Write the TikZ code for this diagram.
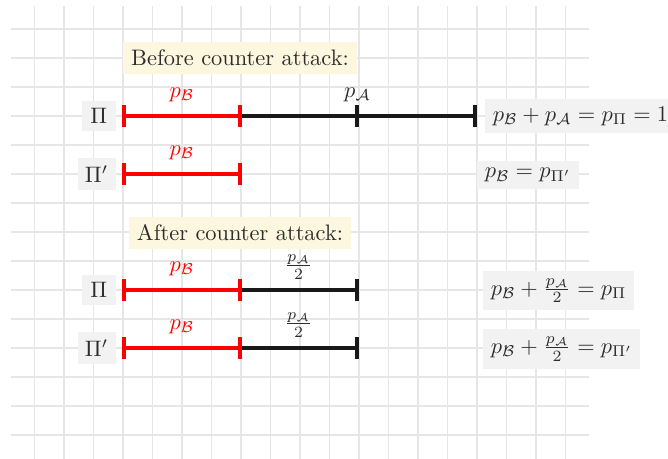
\documentclass[tikz,border=0pt]{standalone}
\usepackage{amsmath}
\definecolor{titlefill}{RGB}{252,247,222}
\definecolor{boxfill}{RGB}{242,242,242}
\definecolor{txt}{RGB}{45,45,45}
\definecolor{gridc}{RGB}{230,230,230}
\begin{document}
\begin{tikzpicture}[x=0.4464pt,y=-0.4464pt,
  gridline/.style={draw=gridc, line width=0.45pt},
  titlebox/.style={fill=titlefill, text=txt, inner sep=3.6pt},
  lblbox/.style={fill=boxfill, text=txt},
  redseg/.style={draw=red, line width=1.35pt},
  blkseg/.style={draw=black!90, line width=1.35pt},
  redlbl/.style={text=red, inner sep=0pt},
  blklbl/.style={text=txt, inner sep=0pt}]
\useasboundingbox (0,0) rectangle (668,459);
% grid
\foreach \i in {0,...,18} \draw[gridline] ({34.5+29.5*\i},5.7) -- ({34.5+29.5*\i},459);
\foreach \j in {0,...,14} \draw[gridline] (11,{29+29*\j}) -- (589,{29+29*\j});
% titles
\node[titlebox] (before) at (240,58) {Before counter attack:};
\node[titlebox] (after) at (240,233) {After counter attack:};
% row labels
\node[lblbox, anchor=east, minimum width=15pt] (pi1) at (116,116) {$\Pi$};
\node[lblbox, anchor=east] (pip1) at (116,174) {$\Pi'$};
\node[lblbox, anchor=east, minimum width=15pt] (pi2) at (116,290) {$\Pi$};
\node[lblbox, anchor=east] (pip2) at (116,348) {$\Pi'$};
% coordinates
\coordinate (a0) at (124,116); \coordinate (a1) at (240,116);
\coordinate (a2) at (357,116); \coordinate (a3) at (475,116);
\coordinate (b0) at (124,174); \coordinate (b1) at (240,174);
\coordinate (c0) at (124,290); \coordinate (c1) at (240,290); \coordinate (c2) at (357,290);
\coordinate (d0) at (124,348); \coordinate (d1) at (240,348); \coordinate (d2) at (357,348);
% segments
\draw[blkseg] (a1) -- (a3);
\draw[blkseg] (c1) -- (c2);
\draw[blkseg] (d1) -- (d2);
\draw[redseg] (a0) -- (a1);
\draw[redseg] (b0) -- (b1);
\draw[redseg] (c0) -- (c1);
\draw[redseg] (d0) -- (d1);
% ticks
\foreach \c in {a2,a3,c2,d2} \draw[blkseg] ([yshift=4.9pt]\c) -- ([yshift=-4.9pt]\c);
\foreach \c in {a0,a1,b0,b1,c0,c1,d0,d1} \draw[redseg] ([yshift=4.9pt]\c) -- ([yshift=-4.9pt]\c);
% segment labels
\path (a0) -- node[redlbl, midway, above=6.3pt] (la1) {$p_{\mathcal{B}}$} (a1);
\path (a1) -- node[blklbl, midway, above=6.3pt] (la2) {$p_{\mathcal{A}}$} (a3);
\path (b0) -- node[redlbl, midway, above=6.3pt] (lb1) {$p_{\mathcal{B}}$} (b1);
\path (c0) -- node[redlbl, midway, above=6.3pt] (lc1) {$p_{\mathcal{B}}$} (c1);
\path (c1) -- node[blklbl, midway, yshift=10.3pt] (lc2) {$\frac{p_{\mathcal{A}}}{2}$} (c2);
\path (d0) -- node[redlbl, midway, above=6.3pt] (ld1) {$p_{\mathcal{B}}$} (d1);
\path (d1) -- node[blklbl, midway, yshift=10.3pt] (ld2) {$\frac{p_{\mathcal{A}}}{2}$} (d2);
% formulas
\node[lblbox, anchor=west] (f1) at (485,116) {$p_{\mathcal{B}}+p_{\mathcal{A}}=p_{\Pi}=1$};
\node[lblbox, anchor=west] (f2) at (477,175) {$p_{\mathcal{B}}=p_{\Pi'}$};
\node[lblbox, anchor=west] (f3) at (483,290.7) {$p_{\mathcal{B}}+\frac{p_{\mathcal{A}}}{2}=p_{\Pi}$};
\node[lblbox, anchor=west] (f4) at (483,349) {$p_{\mathcal{B}}+\frac{p_{\mathcal{A}}}{2}=p_{\Pi'}$};
\end{tikzpicture}
\end{document}
